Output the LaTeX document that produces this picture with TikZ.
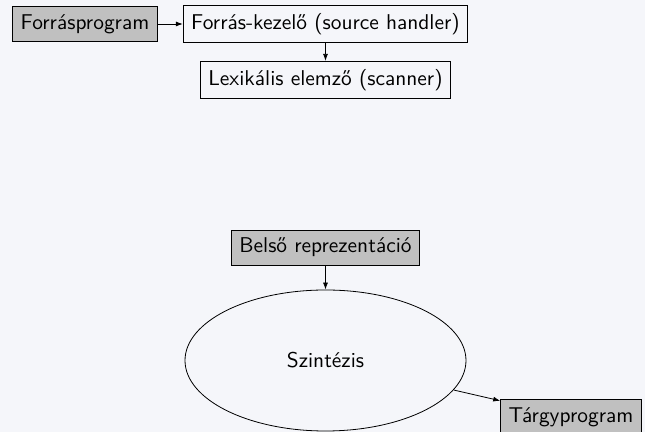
\documentclass[tikz,border=0pt]{standalone}
\usepackage{fontspec}
\usetikzlibrary{arrows.meta, positioning, shapes.geometric}
\definecolor{pagebg}{RGB}{245,246,250}
\definecolor{boxgray}{RGB}{192,192,192}

\begin{document}
\begin{tikzpicture}[x=0.5pt, y=-0.5pt, font=\sffamily\fontsize{10.7pt}{13pt}\selectfont,
  block/.style={draw, rectangle, inner sep=4pt},
  io/.style={block, fill=boxgray},
  flow/.style={-{Latex[length=3.5pt, width=2.5pt]}}]
  \fill[pagebg] (0,0) rectangle (645,432);
  \useasboundingbox (0,0) rectangle (645,432);
  % front end
  \node[io] (src) at (85,24) {Forrásprogram};
  \node[block] (handler) at (325.5,24) {Forrás-kezelő (source handler)};
  \node[block] (scanner) at (325.5,80) {Lexikális elemző (scanner)};
  % back end
  \node[io] (ir) at (325.5,247.5) {Belső reprezentáció};
  \node[draw, ellipse, minimum width=140.5pt, minimum height=70.5pt] (synth) at (325.5,360.5) {Szintézis};
  \node[io] (target) at (571,417) {Tárgyprogram};
  \draw[flow] (src) -- (handler);
  \draw[flow] (handler) -- (scanner);
  \draw[flow] (ir) -- (synth);
  \draw[flow] (synth) -- (target);
\end{tikzpicture}
\end{document}
